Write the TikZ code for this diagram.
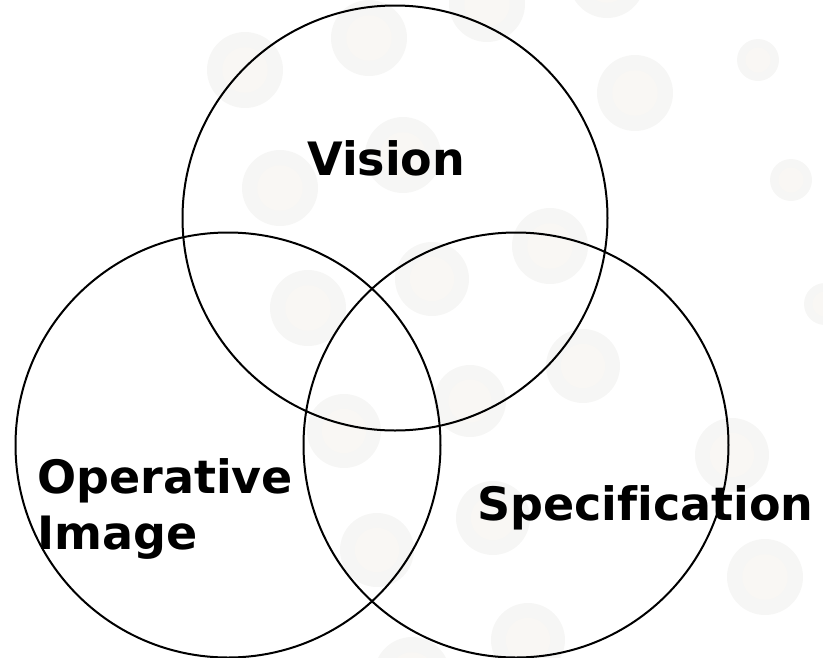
\documentclass[tikz,border=0pt]{standalone}
\usepackage{fontspec}
\setmainfont{DejaVu Sans}[Ligatures=NoCommon]
\definecolor{dotgrey}{RGB}{246,246,245}
\definecolor{dotcore}{RGB}{249,247,244}

\begin{document}
\begin{tikzpicture}[x=1pt,y=-1pt, ring/.style={draw, circle, line width=2pt, minimum size=425pt, inner sep=0pt}, lbl/.style={inner sep=0pt, font=\fontsize{46}{56}\selectfont\bfseries, align=left}]
				\useasboundingbox (0,0) rectangle (823,657);
				% faint dots behind the rings
				\foreach \cx/\cy/\r in {245/70/38, 369/38/38, 487/4/38, 607/-20/38, 403/155/38, 280/188/38, 635/93/38, 758/60/21, 791/180/21, 825/304/21, 550/246/38, 432/279/37, 308/308/38, 583/366/37, 470/401/36, 344/431/37, 732/455/37, 493/518/37, 377/550/37, 765/577/38, 528/640/37, 412/675/38}
				{\fill[dotgrey] (\cx,\cy) circle (\r pt); \fill[dotcore] (\cx,\cy) circle (0.6*\r pt);}

				\node[ring] (V) at (395,218) {};
				\node[ring] (O) at (228,445) {};
				\node[ring] (S) at (516,445) {};

				\node[lbl, anchor=base west] (vision) at (307,175) {Vision};
				\node[lbl, anchor=north west] (operative) at (37,458) {Operative\\Image};
				\node[lbl, anchor=base west] (spec) at (477,520) {Specification};
			\end{tikzpicture}
\end{document}
